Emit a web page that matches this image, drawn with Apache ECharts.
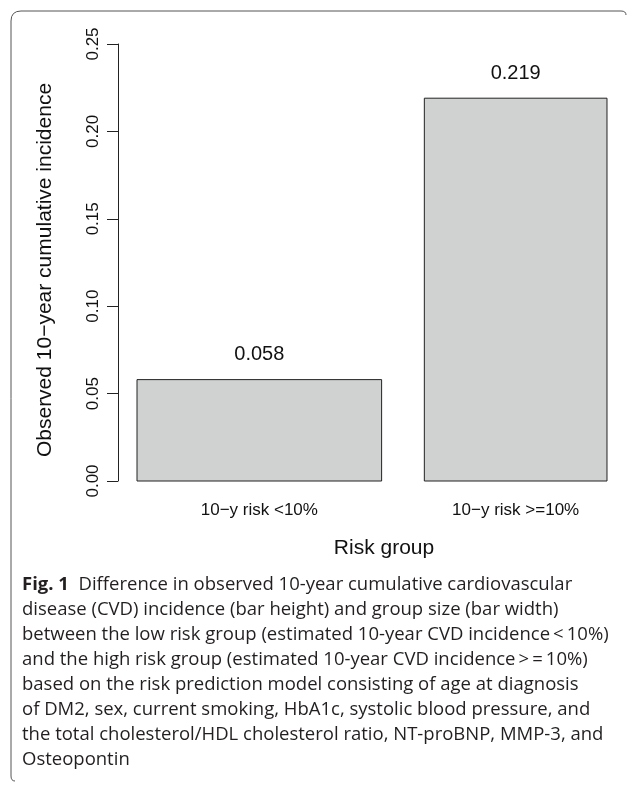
<!DOCTYPE html>
<html>
<head>
<meta charset="utf-8">
<script src="https://cdn.jsdelivr.net/npm/echarts@6/dist/echarts.min.js"></script>
<style>
  html, body { margin: 0; padding: 0; background: #fff; }
  #chart { width: 629px; height: 787px; }
</style>
</head>
<body>
<div id="chart"></div>
<script>
// risk groups, observed incidence and relative group size (bar width)
const categories = ['10\u2212y risk <10%', '10\u2212y risk >=10%'];
const incidence = [0.058, 0.219];
const valueLabels = ['0.058', '0.219'];
const groupWidth = [0.5725, 0.4275];
const yTickLabels = ['0.00', '0.05', '0.10', '0.15', '0.20', '0.25'];

const captionLines = [
    'Difference in observed 10-year cumulative cardiovascular',
    'disease (CVD) incidence (bar height) and group size (bar width)',
    'between the low risk group (estimated 10-year CVD incidence\u2009<\u200910%)',
    'and the high risk group (estimated 10-year CVD incidence\u2009>\u2009=\u200910%)',
    'based on the risk prediction model consisting of age at diagnosis',
    'of DM2, sex, current smoking, HbA1c, systolic blood pressure, and',
    'the total cholesterol/HDL cholesterol ratio, NT-proBNP, MMP-3, and',
    'Osteopontin'
];

// barplot layout like R: space = 0.2 * mean width
const space = 0.2 * (groupWidth[0] + groupWidth[1]) / 2;
let pos = 0;
const barData = groupWidth.map(function (w, i) {
    const left = pos + space;
    pos = left + w;
    return [left, left + w, incidence[i], i];
});

const myChart = echarts.init(document.getElementById('chart'));

const capFont = '"Open Sans", sans-serif';
const frameStyle = {fill: null, stroke: '#555', lineWidth: 1};
const graphics = [
    // frame: top and left edges with rounded corners
    {type: 'polyline', shape: {points: [[21, 11], [621, 11]]}, style: frameStyle},
    {type: 'polyline', shape: {points: [[11, 21], [11, 776]]}, style: frameStyle},
    {type: 'bezierCurve', shape: {x1: 11, y1: 21, cpx1: 11, cpy1: 11, x2: 21, y2: 11}, style: frameStyle},
    {type: 'bezierCurve', shape: {x1: 621, y1: 11, cpx1: 626, cpy1: 11, x2: 626, y2: 15}, style: frameStyle},
    {type: 'bezierCurve', shape: {x1: 11, y1: 776, cpx1: 11, cpy1: 781, x2: 15, y2: 781}, style: frameStyle},
    {
        type: 'text',
        x: 45, y: 270, rotation: Math.PI / 2,
        style: {
            text: 'Observed 10\u2212year cumulative incidence',
            font: '21px "Liberation Sans", Arial, sans-serif',
            fill: '#111', align: 'center', verticalAlign: 'middle'
        }
    },
    {
        type: 'text',
        x: 384, y: 548,
        style: {
            text: 'Risk group',
            font: '21px "Liberation Sans", Arial, sans-serif',
            fill: '#111', align: 'center', verticalAlign: 'middle'
        }
    }
];
captionLines.forEach(function (line, i) {
    graphics.push({
        type: 'text',
        x: 22, y: 585 + 25 * i,
        style: {
            text: i === 0 ? '{b|Fig. 1}  ' + line : line,
            font: '18.5px ' + capFont,
            fill: '#231f20', align: 'left', verticalAlign: 'middle',
            rich: {
                b: {font: 'bold 18.5px ' + capFont, fill: '#231f20'}
            }
        }
    });
});

myChart.setOption({
    animation: false,
    grid: {left: 118, top: 44, width: 511, height: 437},
    xAxis: {
        type: 'value',
        min: 0.0555,
        max: 1.2515,
        show: false
    },
    yAxis: {
        type: 'value',
        min: 0,
        max: 0.25,
        interval: 0.05,
        splitLine: {show: false},
        axisLine: {show: true, lineStyle: {color: '#222', width: 1}},
        axisTick: {show: true, length: 11, lineStyle: {color: '#222'}},
        axisLabel: {
            rotate: 90,
            margin: 16,
            align: 'center',
            verticalAlign: 'bottom',
            fontSize: 17,
            fontFamily: '"Liberation Sans", Arial, sans-serif',
            color: '#111',
            formatter: function (v) {
                return yTickLabels[Math.round(v / 0.05)];
            }
        }
    },
    graphic: graphics,
    series: [{
        type: 'custom',
        data: barData,
        encode: {x: [0, 1], y: 2},
        renderItem: function (params, api) {
            const i = api.value(3);
            const p0 = api.coord([api.value(0), 0]);
            const p1 = api.coord([api.value(1), api.value(2)]);
            const cx = (p0[0] + p1[0]) / 2;
            return {
                type: 'group',
                children: [
                    {
                        type: 'rect',
                        shape: {x: p0[0], y: p1[1], width: p1[0] - p0[0], height: p0[1] - p1[1]},
                        style: {fill: '#d0d2d2', stroke: '#222', lineWidth: 1}
                    },
                    {
                        type: 'text',
                        x: cx, y: p1[1] - 25,
                        style: {
                            text: valueLabels[i],
                            font: '20px "Liberation Sans", Arial, sans-serif',
                            fill: '#111', align: 'center', verticalAlign: 'middle'
                        }
                    },
                    {
                        type: 'text',
                        x: cx, y: p0[1] + 29,
                        style: {
                            text: categories[i],
                            font: '17px "Liberation Sans", Arial, sans-serif',
                            fill: '#111', align: 'center', verticalAlign: 'middle'
                        }
                    }
                ]
            };
        }
    }]
});
</script>
</body>
</html>
